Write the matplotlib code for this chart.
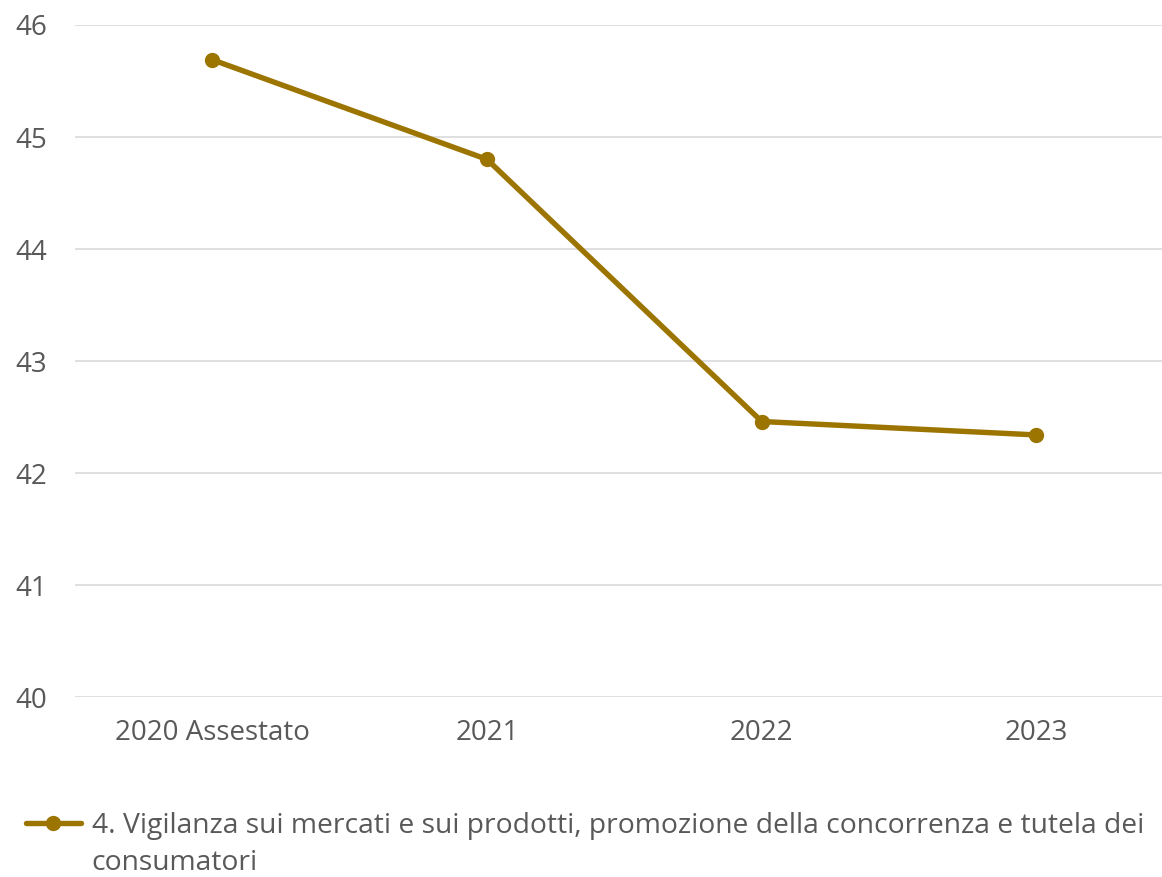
import matplotlib.pyplot as plt

# Data
categories = ['2020 Assestato', '2021', '2022', '2023']
values = [45.69, 44.80, 42.46, 42.34]
legend_line1 = '4. Vigilanza sui mercati e sui prodotti, promozione della concorrenza e tutela dei'
legend_line2 = 'consumatori'

line_color = '#9C7400'
text_color = '#595959'
grid_color = '#D9D9D9'

plt.rcParams['font.family'] = ['Open Sans', 'DejaVu Sans']

fig = plt.figure(figsize=(11.62, 8.77), dpi=100)
ax = fig.add_axes([0.0645, 0.2052, 0.9355, 0.7663])

x = list(range(len(categories)))
ax.plot(x, values, color=line_color, linewidth=3.9, marker='o', markersize=10,
        label=legend_line1, solid_capstyle='round')

ax.set_ylim(40, 46)
ax.set_xlim(-0.5, 3.457)
ax.set_yticks(range(40, 47))
ax.set_xticks(x)
ax.set_xticklabels(categories)
ax.grid(axis='y', color=grid_color, linewidth=1.2)
ax.set_axisbelow(True)
for s in ax.spines.values():
    s.set_visible(False)
ax.tick_params(length=0, colors=text_color, labelsize=20)
ax.tick_params(axis='x', pad=16)
ax.tick_params(axis='y', pad=20)

# Legend: handle sits on the first text line, second line wraps below
leg = fig.legend(loc='center left', bbox_to_anchor=(0.022, 1 - 826 / 877), frameon=False,
                 fontsize=20.3, handlelength=1.95, handletextpad=0.4,
                 borderaxespad=0, borderpad=0)
for t in leg.get_texts():
    t.set_color(text_color)

fig.canvas.draw()
bb = leg.get_texts()[0].get_window_extent()
fig.text(bb.x0 / fig.bbox.width, (bb.y0 - 37 + bb.height / 2) / fig.bbox.height,
         legend_line2, color=text_color, fontsize=20.3, va='center', ha='left')

fig.savefig('out.png', dpi=100)
